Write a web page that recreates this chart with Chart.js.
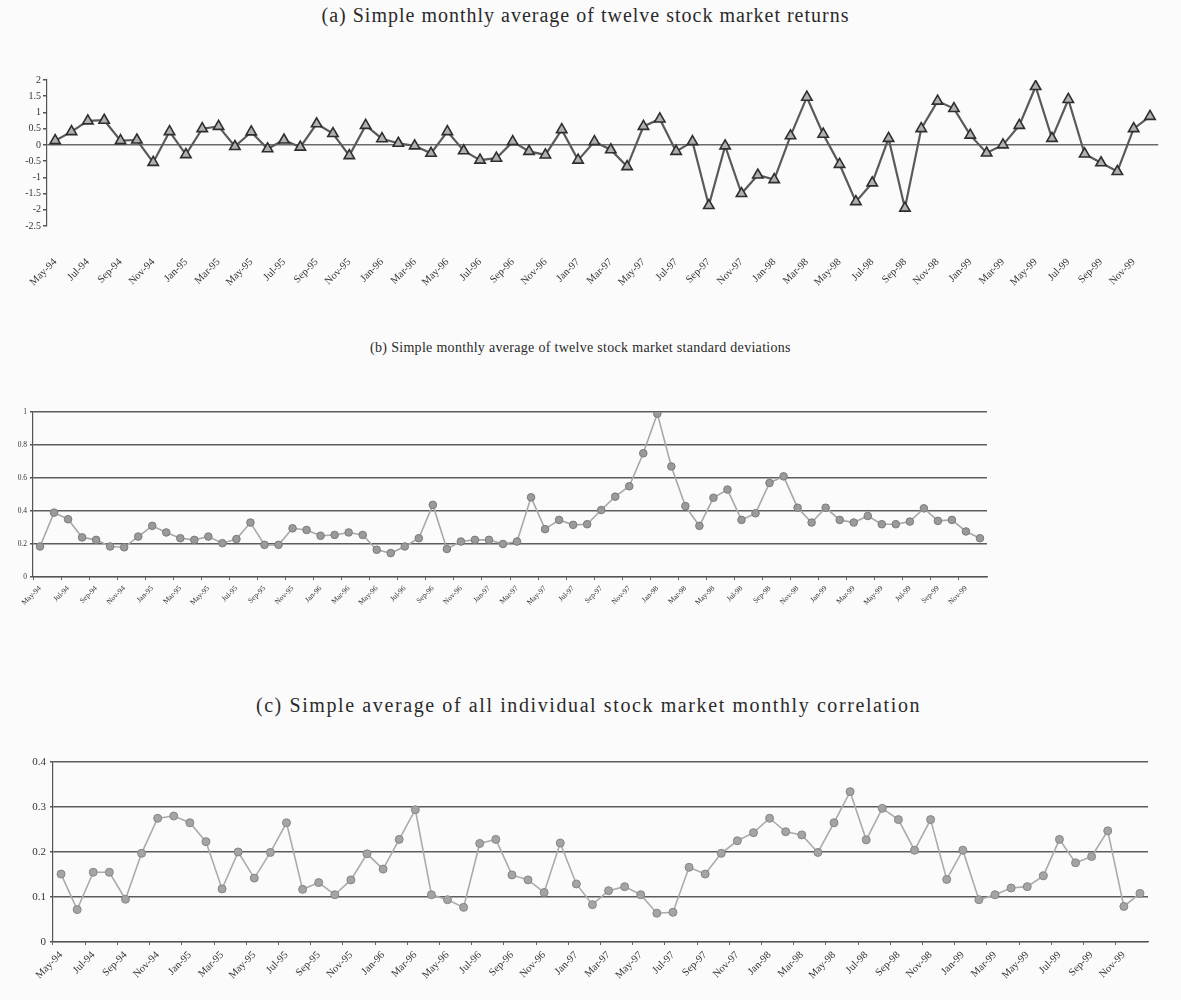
<!DOCTYPE html>
<html>
<head>
<meta charset="utf-8">
<script src="https://cdn.jsdelivr.net/npm/chart.js@4.4.0/dist/chart.umd.min.js"></script>
<style>
  html, body { margin: 0; padding: 0; background: #fbfbfb; }
  body { width: 1181px; height: 1000px; position: relative; overflow: hidden; font-family: "Liberation Serif", "DejaVu Serif", serif; color: #2a2a2a; }
  .title { position: absolute; width: 1181px; text-align: center; white-space: nowrap; }
  .box { position: absolute; left: 0; width: 1181px; }
</style>
</head>
<body>
<div class="title" id="ta" style="top:4px; left:-5px; font-size:20px; letter-spacing:1px;">(a) Simple monthly average of twelve stock market returns</div>
<div class="box" style="top:70px; height:240px;"><canvas id="ca"></canvas></div>
<div class="title" id="tb" style="top:340px; left:-10px; font-size:14px; letter-spacing:0.3px;">(b) Simple monthly average of twelve stock market standard deviations</div>
<div class="box" style="top:400px; height:230px;"><canvas id="cb"></canvas></div>
<div class="title" id="tc" style="top:694px; left:-2px; font-size:20px; letter-spacing:1.6px;">(c) Simple average of all individual stock market monthly correlation</div>
<div class="box" style="top:750px; height:250px;"><canvas id="cc"></canvas></div>
<script>
// Categories: monthly, May-94 .. Dec-99
const months = [
  "May-94","Jun-94","Jul-94","Aug-94","Sep-94","Oct-94","Nov-94","Dec-94",
  "Jan-95","Feb-95","Mar-95","Apr-95","May-95","Jun-95","Jul-95","Aug-95","Sep-95","Oct-95","Nov-95","Dec-95",
  "Jan-96","Feb-96","Mar-96","Apr-96","May-96","Jun-96","Jul-96","Aug-96","Sep-96","Oct-96","Nov-96","Dec-96",
  "Jan-97","Feb-97","Mar-97","Apr-97","May-97","Jun-97","Jul-97","Aug-97","Sep-97","Oct-97","Nov-97","Dec-97",
  "Jan-98","Feb-98","Mar-98","Apr-98","May-98","Jun-98","Jul-98","Aug-98","Sep-98","Oct-98","Nov-98","Dec-98",
  "Jan-99","Feb-99","Mar-99","Apr-99","May-99","Jun-99","Jul-99","Aug-99","Sep-99","Oct-99","Nov-99","Dec-99"
];

// (a) average monthly returns
const returnsAvg = [
  0.13, 0.41, 0.74, 0.76, 0.13, 0.15, -0.54, 0.41, -0.30, 0.50,
  0.57, -0.05, 0.40, -0.12, 0.15, -0.07, 0.65, 0.35, -0.33, 0.60,
  0.19, 0.05, -0.03, -0.26, 0.41, -0.18, -0.47, -0.41, 0.10, -0.20,
  -0.31, 0.47, -0.47, 0.10, -0.15, -0.67, 0.57, 0.80, -0.20, 0.10,
  -1.87, -0.03, -1.50, -0.93, -1.07, 0.28, 1.47, 0.33, -0.60, -1.75,
  -1.17, 0.20, -1.95, 0.50, 1.35, 1.12, 0.30, -0.25, 0.00, 0.60,
  1.80, 0.20, 1.40, -0.28, -0.55, -0.82, 0.50, 0.88
];

// (b) average monthly standard deviations
const stdevAvg = [
  0.185, 0.39, 0.35, 0.24, 0.225, 0.185, 0.18, 0.245, 0.31, 0.27,
  0.235, 0.225, 0.245, 0.205, 0.23, 0.33, 0.195, 0.195, 0.295, 0.285,
  0.25, 0.255, 0.27, 0.255, 0.165, 0.145, 0.185, 0.235, 0.437, 0.17,
  0.215, 0.225, 0.225, 0.20, 0.215, 0.483, 0.29, 0.346, 0.316, 0.32,
  0.406, 0.487, 0.55, 0.75, 0.99, 0.67, 0.43, 0.31, 0.48, 0.53,
  0.346, 0.386, 0.57, 0.61, 0.42, 0.33, 0.42, 0.346, 0.33, 0.37,
  0.32, 0.32, 0.336, 0.416, 0.34, 0.346, 0.276, 0.235
];

// (c) average monthly correlation
const correlAvg = [
  0.151, 0.072, 0.155, 0.155, 0.095, 0.197, 0.275, 0.280, 0.265, 0.223,
  0.118, 0.200, 0.142, 0.199, 0.265, 0.117, 0.132, 0.105, 0.138, 0.196,
  0.162, 0.228, 0.294, 0.105, 0.094, 0.077, 0.219, 0.228, 0.149, 0.138,
  0.110, 0.220, 0.129, 0.083, 0.114, 0.123, 0.105, 0.064, 0.066, 0.166,
  0.151, 0.197, 0.225, 0.243, 0.275, 0.245, 0.238, 0.199, 0.265, 0.334,
  0.227, 0.297, 0.272, 0.204, 0.272, 0.139, 0.204, 0.094, 0.105, 0.120,
  0.123, 0.147, 0.228, 0.176, 0.190, 0.247, 0.079, 0.108
];

const SERIF = '"Liberation Serif", "DejaVu Serif", serif';
const INK = '#333';
const plainNum = (v) => String(Math.round(v * 100) / 100);

function xScale(fontSize, pad, height) {
  return {
    type: 'category',
    offset: true,
    border: { display: false },
    grid: { display: false },
    ticks: {
      autoSkip: false,
      minRotation: 45,
      maxRotation: 45,
      padding: pad,
      color: INK,
      font: { family: SERIF, size: fontSize },
      callback: function (v, i) { return i % 2 === 0 ? this.getLabelForValue(v) : ''; }
    },
    afterFit: function (s) { s.height = height; }
  };
}

function baseOptions(padRight, padTop) {
  return {
    responsive: true,
    maintainAspectRatio: false,
    animation: false,
    layout: { padding: { left: 0, right: padRight, top: padTop, bottom: 0 } },
    plugins: { legend: { display: false }, tooltip: { enabled: false }, title: { display: false } }
  };
}

// (a)
const optA = baseOptions(6, 10);
optA.scales = {
  x: xScale(10.5, 22, 84),
  y: {
    min: -2.5, max: 2,
    ticks: { stepSize: 0.5, color: INK, font: { family: SERIF, size: 10 }, padding: 2, callback: plainNum },
    border: { display: true, color: '#555', width: 1.2 },
    grid: {
      color: (c) => (c.tick && c.tick.value === 0) ? '#6a6a6a' : 'rgba(0,0,0,0)',
      lineWidth: 1.5,
      tickColor: '#555',
      tickLength: 4
    },
    afterFit: function (s) { s.width = 47; }
  }
};
new Chart(document.getElementById('ca'), {
  type: 'line',
  data: {
    labels: months,
    datasets: [{
      data: returnsAvg,
      borderColor: '#5a5a5a',
      borderWidth: 2.2,
      pointStyle: 'triangle',
      pointRadius: 6,
      pointBackgroundColor: '#b0b0b0',
      pointBorderColor: '#2e2e2e',
      pointBorderWidth: 1.6,
      tension: 0
    }]
  },
  options: optA
});

// (b)
const optB = baseOptions(194, 12);
optB.scales = {
  x: Object.assign(xScale(7.5, 4, 53), {
    border: { display: true, color: '#555', width: 1.2 },
    grid: { display: true, offset: true, drawOnChartArea: false, color: (c) => c.index % 2 === 0 ? '#666' : 'rgba(0,0,0,0)', tickLength: 3 }
  }),
  y: {
    min: 0, max: 1,
    ticks: { stepSize: 0.2, color: INK, font: { family: SERIF, size: 7.5 }, padding: 3, callback: plainNum },
    border: { display: true, color: '#555', width: 1.2 },
    grid: { color: '#5c5c5c', lineWidth: 1.5, tickColor: '#555', tickLength: 3 },
    afterFit: function (s) { s.width = 33; }
  }
};
new Chart(document.getElementById('cb'), {
  type: 'line',
  data: {
    labels: months,
    datasets: [{
      data: stdevAvg,
      borderColor: '#a8a8a8',
      borderWidth: 1.6,
      pointStyle: 'circle',
      pointRadius: 3.8,
      pointBackgroundColor: '#9a9a9a',
      pointBorderColor: '#7a7a7a',
      pointBorderWidth: 1,
      tension: 0
    }]
  },
  options: optB
});

// (c)
const optC = baseOptions(33, 12);
optC.scales = {
  x: Object.assign(xScale(10.5, 4, 58), {
    border: { display: true, color: '#555', width: 1.2 },
    grid: { display: true, offset: true, drawOnChartArea: false, color: (c) => c.index % 2 === 0 ? '#666' : 'rgba(0,0,0,0)', tickLength: 3 }
  }),
  y: {
    min: 0, max: 0.4,
    ticks: { stepSize: 0.1, color: INK, font: { family: SERIF, size: 11 }, padding: 4, callback: plainNum },
    border: { display: true, color: '#555', width: 1.2 },
    grid: { color: '#5c5c5c', lineWidth: 1.5, tickColor: '#555', tickLength: 3 },
    afterFit: function (s) { s.width = 53; }
  }
};
new Chart(document.getElementById('cc'), {
  type: 'line',
  data: {
    labels: months,
    datasets: [{
      data: correlAvg,
      borderColor: '#ababab',
      borderWidth: 1.6,
      pointStyle: 'circle',
      pointRadius: 4,
      pointBackgroundColor: '#a4a4a4',
      pointBorderColor: '#858585',
      pointBorderWidth: 1,
      tension: 0
    }]
  },
  options: optC
});
</script>
</body>
</html>
